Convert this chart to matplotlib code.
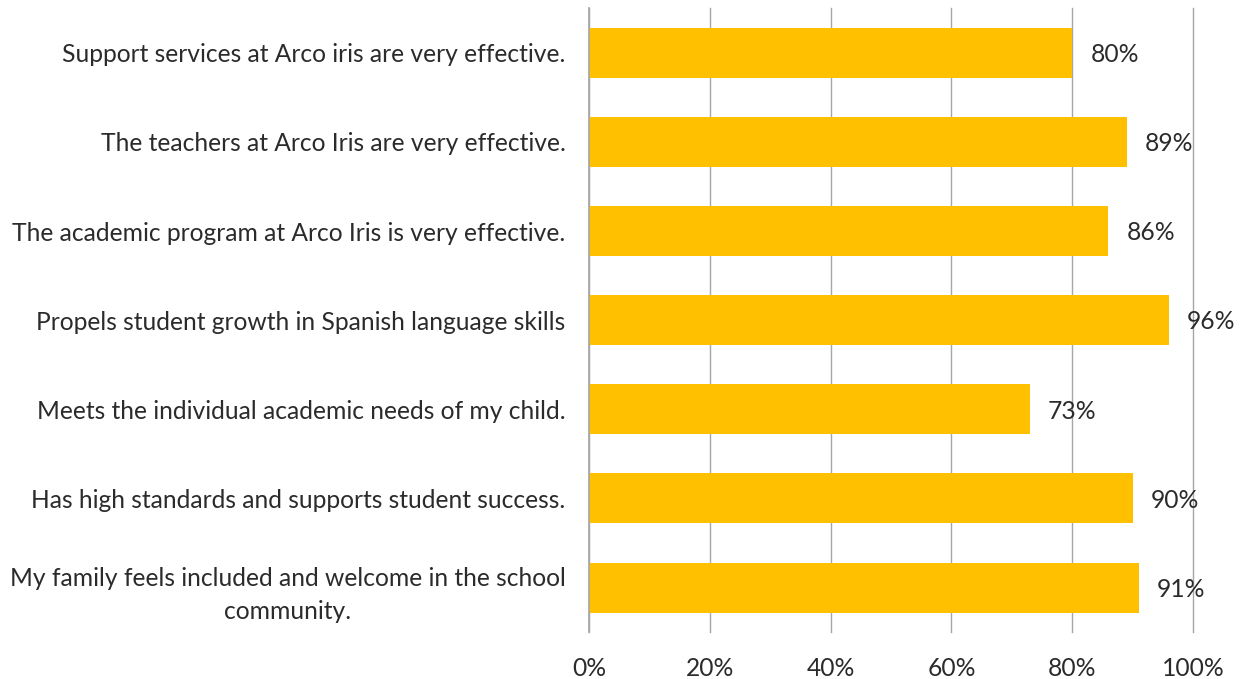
import matplotlib
matplotlib.use('Agg')
import matplotlib.pyplot as plt

# 設問(上から順)
questions = [
    "Support services at Arco iris are very effective.",
    "The teachers at Arco Iris are very effective.",
    "The academic program at Arco Iris is very effective.",
    "Propels student growth in Spanish language skills",
    "Meets the individual academic needs of my child.",
    "Has high standards and supports student success.",
    "My family feels included and welcome in the school\ncommunity.",
]
values = [80, 89, 86, 96, 73, 90, 91]
x_ticks = [0, 20, 40, 60, 80, 100]

plt.rcParams['font.family'] = ['Lato', 'DejaVu Sans']
text_color = '#2b2b2b'
fs = 17.7

fig = plt.figure(figsize=(12.44, 6.79), dpi=100)
ax = fig.add_axes([0.4735, 0.069, 0.4855, 0.919])

y = list(range(len(questions)))
ax.barh(y, values, height=0.56, color='#FFC000', zorder=2)
ax.set_ylim(len(questions) - 0.5, -0.5)
ax.set_xlim(0, 100)

# 値ラベル
for yi, v in zip(y, values):
    ax.text(v + 3.0, yi + 0.02, f"{v}%", va='center', ha='left',
            fontsize=fs, color=text_color, zorder=3)

ax.set_xticks(x_ticks)
ax.set_xticklabels([f"{t}%" for t in x_ticks], fontsize=fs, color=text_color)
ax.set_yticks(y)
ax.set_yticklabels(questions, fontsize=fs, color=text_color,
                   multialignment='center', linespacing=1.55)
ax.tick_params(axis='y', length=0, pad=17)
ax.tick_params(axis='x', length=0, pad=18)

ax.xaxis.grid(True, color='#a6a6a6', linewidth=1.0, zorder=1)
for gl in ax.get_xgridlines():
    gl.set_clip_on(False)
for s in ['top', 'right', 'bottom']:
    ax.spines[s].set_visible(False)
ax.spines['left'].set_color('#a6a6a6')
ax.spines['left'].set_linewidth(1.2)

fig.savefig('out.png', dpi=100)
